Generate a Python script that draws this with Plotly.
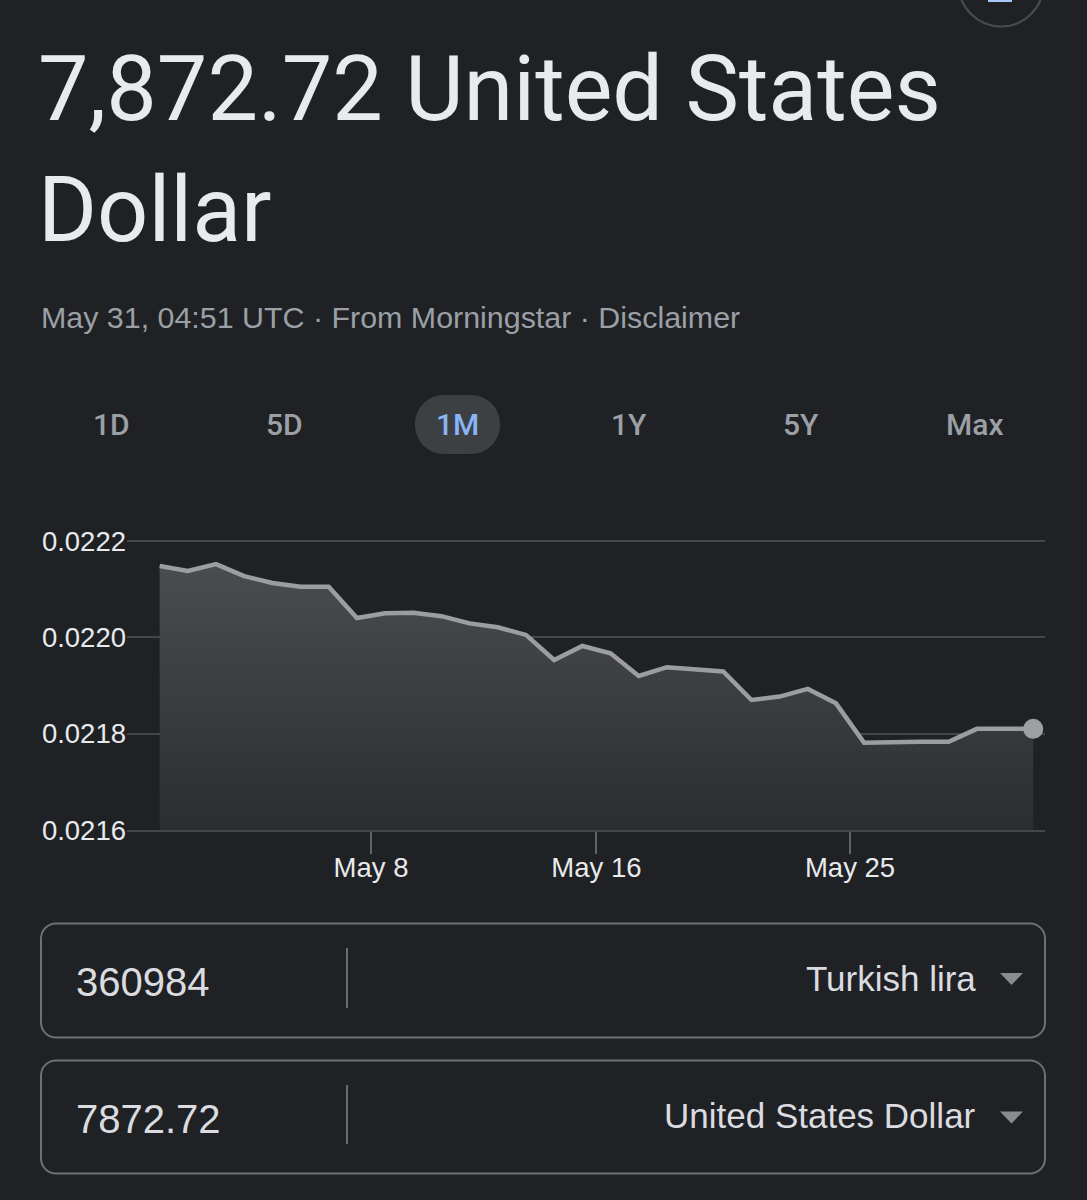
import plotly.graph_objects as go

# ---------------- data ----------------
dates = [
    "2025-04-30", "2025-05-01", "2025-05-02", "2025-05-03", "2025-05-04", "2025-05-05",
    "2025-05-06", "2025-05-07", "2025-05-08", "2025-05-09", "2025-05-10", "2025-05-11",
    "2025-05-12", "2025-05-13", "2025-05-14", "2025-05-15", "2025-05-16", "2025-05-17",
    "2025-05-18", "2025-05-19", "2025-05-20", "2025-05-21", "2025-05-22", "2025-05-23",
    "2025-05-24", "2025-05-25", "2025-05-26", "2025-05-27", "2025-05-28", "2025-05-29",
    "2025-05-30", "2025-05-31",
]
rates = [
    0.022148, 0.022138, 0.022152, 0.022127, 0.022113, 0.022105,
    0.022105, 0.022040, 0.022050, 0.022051, 0.022044, 0.022029,
    0.022021, 0.022005, 0.021953, 0.021982, 0.021967, 0.021920,
    0.021938, 0.021934, 0.021929, 0.021870, 0.021877, 0.021893,
    0.021863, 0.021781, 0.021783, 0.021783, 0.021783, 0.021810,
    0.021810, 0.021810,
]
x_tick_dates = ["2025-05-08", "2025-05-16", "2025-05-25"]
x_tick_labels = ["May 8", "May 16", "May 25"]
y_tick_values = [0.0216, 0.0218, 0.0220, 0.0222]
y_tick_labels = ["0.0216", "0.0218", "0.0220", "0.0222"]
range_buttons = ["1D", "5D", "1M", "1Y", "5Y", "Max"]
selected_range = "1M"
headline_amount = "7,872.72"
subtitle = "May 31, 04:51 UTC · From Morningstar · Disclaimer"
from_amount = "360984"
from_currency = "Turkish lira"
to_amount = "7872.72"
to_currency = "United States Dollar"

# ---------------- layout helpers ----------------
W, H = 1087, 1200
BG = "#202124"


def X(px):
    return px / W


def Y(py):
    return 1 - py / H


def rounded_rect_path(x0, y0, x1, y1, r):
    k = 0.5523 * r
    pts = [
        ("M", [(x0 + r, y0)]),
        ("L", [(x1 - r, y0)]),
        ("C", [(x1 - r + k, y0), (x1, y0 + r - k), (x1, y0 + r)]),
        ("L", [(x1, y1 - r)]),
        ("C", [(x1, y1 - r + k), (x1 - r + k, y1), (x1 - r, y1)]),
        ("L", [(x0 + r, y1)]),
        ("C", [(x0 + r - k, y1), (x0, y1 - r + k), (x0, y1 - r)]),
        ("L", [(x0, y0 + r)]),
        ("C", [(x0, y0 + r - k), (x0 + r - k, y0), (x0 + r, y0)]),
    ]
    out = []
    for cmd, ps in pts:
        out.append(cmd + " " + " ".join(f"{X(a):.5f},{Y(b):.5f}" for a, b in ps))
    return " ".join(out) + " Z"


def triangle_path(cx, cy, w, h):
    return (f"M {X(cx - w / 2):.5f},{Y(cy - h / 2):.5f} "
            f"L {X(cx + w / 2):.5f},{Y(cy - h / 2):.5f} "
            f"L {X(cx):.5f},{Y(cy + h / 2):.5f} Z")


fig = go.Figure()

fig.add_trace(go.Scatter(
    x=dates, y=rates, mode="lines",
    xperiod=86400000, xperiodalignment="middle",
    line=dict(color="#9c9d9f", width=4.5),
    fill="tozeroy",
    fillgradient=dict(type="vertical",
                      colorscale=[[0, "#2c2d31"], [1, "#4b4c50"]],
                      start=y_tick_values[0], stop=max(rates)),
    hoverinfo="skip",
))
fig.add_trace(go.Scatter(
    x=[dates[-1]], y=[rates[-1]], mode="markers",
    xperiod=86400000, xperiodalignment="middle",
    marker=dict(size=20, color="#9e9fa1"),
    hoverinfo="skip",
))

shapes = []
shapes.append(dict(type="circle", xref="paper", yref="paper",
                   x0=X(958.5), x1=X(1043.5), y0=Y(-58.5), y1=Y(26.5),
                   line=dict(color="#4a4c50", width=2)))
shapes.append(dict(type="rect", xref="paper", yref="paper",
                   x0=X(988), x1=X(1012), y0=Y(-4), y1=Y(2),
                   line=dict(width=0), fillcolor="#a8c7fa"))
sel_idx = range_buttons.index(selected_range)
btn_x = [111, 284, 457, 629, 801, 975]
shapes.append(dict(type="path", xref="paper", yref="paper",
                   path=rounded_rect_path(415, 395, 500, 454, 29),
                   fillcolor="#3c4043", line=dict(width=0), layer="below"))
for top, bot in [(923.5, 1037.5), (1060.5, 1173.5)]:
    shapes.append(dict(type="path", xref="paper", yref="paper",
                       path=rounded_rect_path(41, top, 1045, bot, 15),
                       line=dict(color="#6f7074", width=2)))
    shapes.append(dict(type="line", xref="paper", yref="paper",
                       x0=X(347), x1=X(347), y0=Y(top + 24.5), y1=Y(bot - 29.5),
                       line=dict(color="#6b6c70", width=2)))
shapes.append(dict(type="path", xref="paper", yref="paper",
                   path=triangle_path(1011.5, 979, 23, 12),
                   fillcolor="#8a8b8e", line=dict(width=0)))
shapes.append(dict(type="path", xref="paper", yref="paper",
                   path=triangle_path(1011.5, 1117.5, 23, 12),
                   fillcolor="#8a8b8e", line=dict(width=0)))

annotations = []
TITLE_FONT = "Roboto"
BODY_FONT = "Liberation Sans"


def label(text, px, py, size, color, family, anchor="left", weight=None):
    font = dict(family=family, size=size, color=color)
    if weight is not None:
        font["weight"] = weight
    annotations.append(dict(text=text, x=X(px), y=Y(py), xref="paper", yref="paper",
                            xanchor=anchor, yanchor="middle", showarrow=False,
                            font=font))


label(f"{headline_amount} United States", 36, 89, 90, "#e8eaed", TITLE_FONT)
label("Dollar", 36, 211, 90, "#e8eaed", TITLE_FONT)
label(subtitle, 39, 317, 30.4, "#9aa0a6", BODY_FONT)
for i, lab in enumerate(range_buttons):
    label(lab, btn_x[i], 424.5, 30, "#8ab4f8" if i == sel_idx else "#9aa0a6",
          TITLE_FONT, anchor="center", weight=500)
label(from_amount, 74, 981.5, 40, "#dadce0", BODY_FONT)
label(from_currency, 978, 978.5, 35, "#dadce0", BODY_FONT, anchor="right")
label(to_amount, 74, 1119, 40, "#dadce0", BODY_FONT)
label(to_currency, 978, 1115.5, 35, "#dadce0", BODY_FONT, anchor="right")

fig.update_layout(
    template="none",
    width=W, height=H, autosize=False,
    margin=dict(l=0, r=0, t=0, b=0, pad=0, autoexpand=False),
    paper_bgcolor=BG, plot_bgcolor="rgba(0,0,0,0)",
    showlegend=False,
    shapes=shapes, annotations=annotations,
    xaxis=dict(
        domain=[X(127), X(1045)],
        range=["2025-04-29 08:11", "2025-05-31 22:02"],
        tickmode="array", tickvals=x_tick_dates, ticktext=x_tick_labels,
        ticks="outside", ticklen=22, tickwidth=2, tickcolor="#5f6368",
        ticklabelstandoff=-10,
        showgrid=False, zeroline=False, automargin=False,
        showline=True, linecolor="#45464a", linewidth=2,
        tickfont=dict(family=BODY_FONT, size=27.5, color="#e8eaed"),
        fixedrange=True,
    ),
    yaxis=dict(
        domain=[Y(830), Y(536.2)],
        range=[0.0216, 0.02221],
        tickmode="array", tickvals=y_tick_values, ticktext=y_tick_labels,
        showgrid=True, gridcolor="#45464a", gridwidth=2, zeroline=False,
        ticks="", ticklabelstandoff=0, automargin=False, showline=False,
        tickfont=dict(family=BODY_FONT, size=27.5, color="#e8eaed"),
        fixedrange=True,
    ),
)

fig.write_html(
    "out.html",
    config={"displayModeBar": False},
    post_script="document.body.style.margin='0';document.body.style.overflow='hidden';",
)
